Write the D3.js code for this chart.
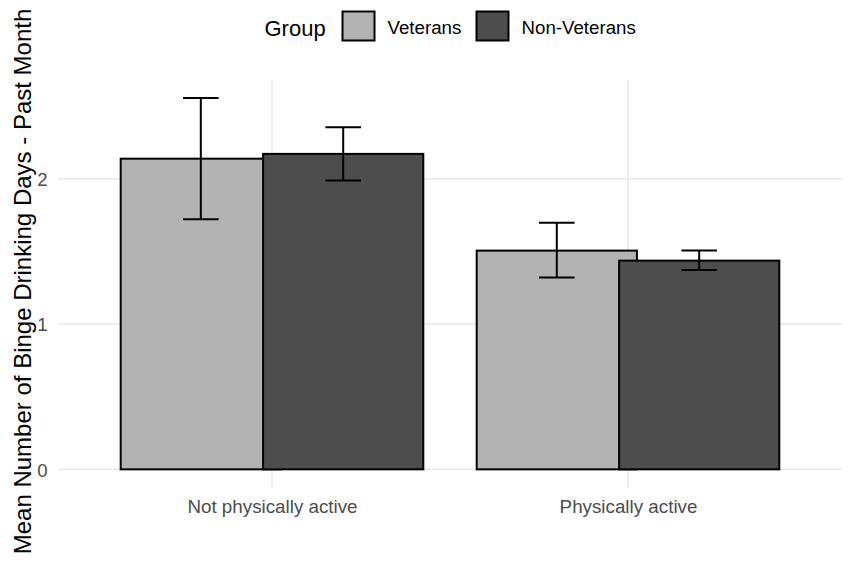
<!DOCTYPE html>
<html>
<head>
<meta charset="utf-8">
<script src="https://cdn.jsdelivr.net/npm/d3@7"></script>
<style>
  html, body { margin: 0; padding: 0; background: #fff; }
  svg { display: block; font-family: "Liberation Sans", Arial, sans-serif; }
</style>
</head>
<body>
<svg id="chart" width="850" height="562"></svg>
<script>
// ---- data ----
const categories = ["Not physically active", "Physically active"];
const groups = ["Veterans", "Non-Veterans"];
const groupColors = ["#b3b3b3", "#4d4d4d"];
const veteranMeans = [2.139, 1.506];
const veteranLower = [1.722, 1.320];
const veteranUpper = [2.557, 1.698];
const nonVeteranMeans = [2.172, 1.437];
const nonVeteranLower = [1.988, 1.373];
const nonVeteranUpper = [2.355, 1.506];
const yTicks = [0, 1, 2];
const legendTitle = "Group";
const yTitle = "Mean Number of Binge Drinking Days - Past Month";

const rows = [];
categories.forEach((c, i) => {
  rows.push({cat: c, group: 0, mean: veteranMeans[i], lo: veteranLower[i], hi: veteranUpper[i]});
  rows.push({cat: c, group: 1, mean: nonVeteranMeans[i], lo: nonVeteranLower[i], hi: nonVeteranUpper[i]});
});

const svg = d3.select("#chart");
const panel = {left: 58.4, right: 841.6, top: 79.4, bottom: 487.9};

const x = d3.scalePoint().domain(categories).range([panel.left, panel.right]).padding(0.6);
const step = x.step();
const barW = step * 0.45;
const dodge = step * 0.2;
const capW = step * 0.1;

const maxV = d3.max(rows, d => d.hi);
const pad = maxV * 0.05;
const y = d3.scaleLinear().domain([-pad, maxV + pad]).range([panel.bottom, panel.top]);

const gridColor = "#ebebeb";
// gridlines
svg.append("g").selectAll("line.h").data(yTicks).join("line")
  .attr("x1", panel.left).attr("x2", panel.right)
  .attr("y1", d => y(d)).attr("y2", d => y(d))
  .attr("stroke", gridColor).attr("stroke-width", 1.8);
svg.append("g").selectAll("line.v").data(categories).join("line")
  .attr("x1", d => x(d)).attr("x2", d => x(d))
  .attr("y1", panel.top).attr("y2", panel.bottom)
  .attr("stroke", gridColor).attr("stroke-width", 1.8);

// y tick labels
const yAxis = d3.axisLeft(y).tickValues(yTicks).tickSize(0).tickPadding(0).tickFormat(d3.format("d"));
const ya = svg.append("g").attr("transform", `translate(47.5,0)`).call(yAxis);
ya.select(".domain").remove();
ya.selectAll("text").attr("fill", "#4d4d4d").attr("font-size", 18.6)
  .attr("font-family", "Liberation Sans, Arial, sans-serif").attr("dy", "0.36em").attr("x", 0);

// x tick labels
const xAxis = d3.axisBottom(x).tickSize(0).tickPadding(0);
const xa = svg.append("g").attr("transform", `translate(0,512.5)`).call(xAxis);
xa.select(".domain").remove();
xa.selectAll("text").attr("fill", "#4d4d4d").attr("font-size", 18.8)
  .attr("font-family", "Liberation Sans, Arial, sans-serif").attr("dy", 0).attr("y", 0);

// bars
const cx = d => x(d.cat) + (d.group === 0 ? -dodge : dodge);
svg.append("g").selectAll("rect").data(rows).join("rect")
  .attr("x", d => cx(d) - barW / 2)
  .attr("width", barW)
  .attr("y", d => y(d.mean))
  .attr("height", d => y(0) - y(d.mean))
  .attr("fill", d => groupColors[d.group])
  .attr("stroke", "#000").attr("stroke-width", 2);

// error bars
const eb = svg.append("g").attr("stroke", "#000").attr("stroke-width", 2).attr("fill", "none");
rows.forEach(d => {
  const c = cx(d);
  eb.append("line").attr("x1", c).attr("x2", c).attr("y1", y(d.lo)).attr("y2", y(d.hi));
  eb.append("line").attr("x1", c - capW / 2).attr("x2", c + capW / 2).attr("y1", y(d.lo)).attr("y2", y(d.lo));
  eb.append("line").attr("x1", c - capW / 2).attr("x2", c + capW / 2).attr("y1", y(d.hi)).attr("y2", y(d.hi));
});

// y axis title
svg.append("text")
  .attr("transform", `translate(31,281.5) rotate(-90)`)
  .attr("text-anchor", "middle").attr("font-size", 24).attr("fill", "#000")
  .text(yTitle);

// legend
const lg = svg.append("g");
lg.append("text").attr("x", 264.5).attr("y", 36).attr("font-size", 22).attr("fill", "#000").text(legendTitle);
const keyX = [342.5, 476.5];
const labelX = [387.5, 521.5];
groups.forEach((g, i) => {
  lg.append("rect").attr("x", keyX[i]).attr("y", 11.5).attr("width", 32).attr("height", 29)
    .attr("fill", groupColors[i]).attr("stroke", "#000").attr("stroke-width", 2);
  lg.append("text").attr("x", labelX[i]).attr("y", 34).attr("font-size", 18.7).attr("fill", "#000").text(g);
});
</script>
</body>
</html>
